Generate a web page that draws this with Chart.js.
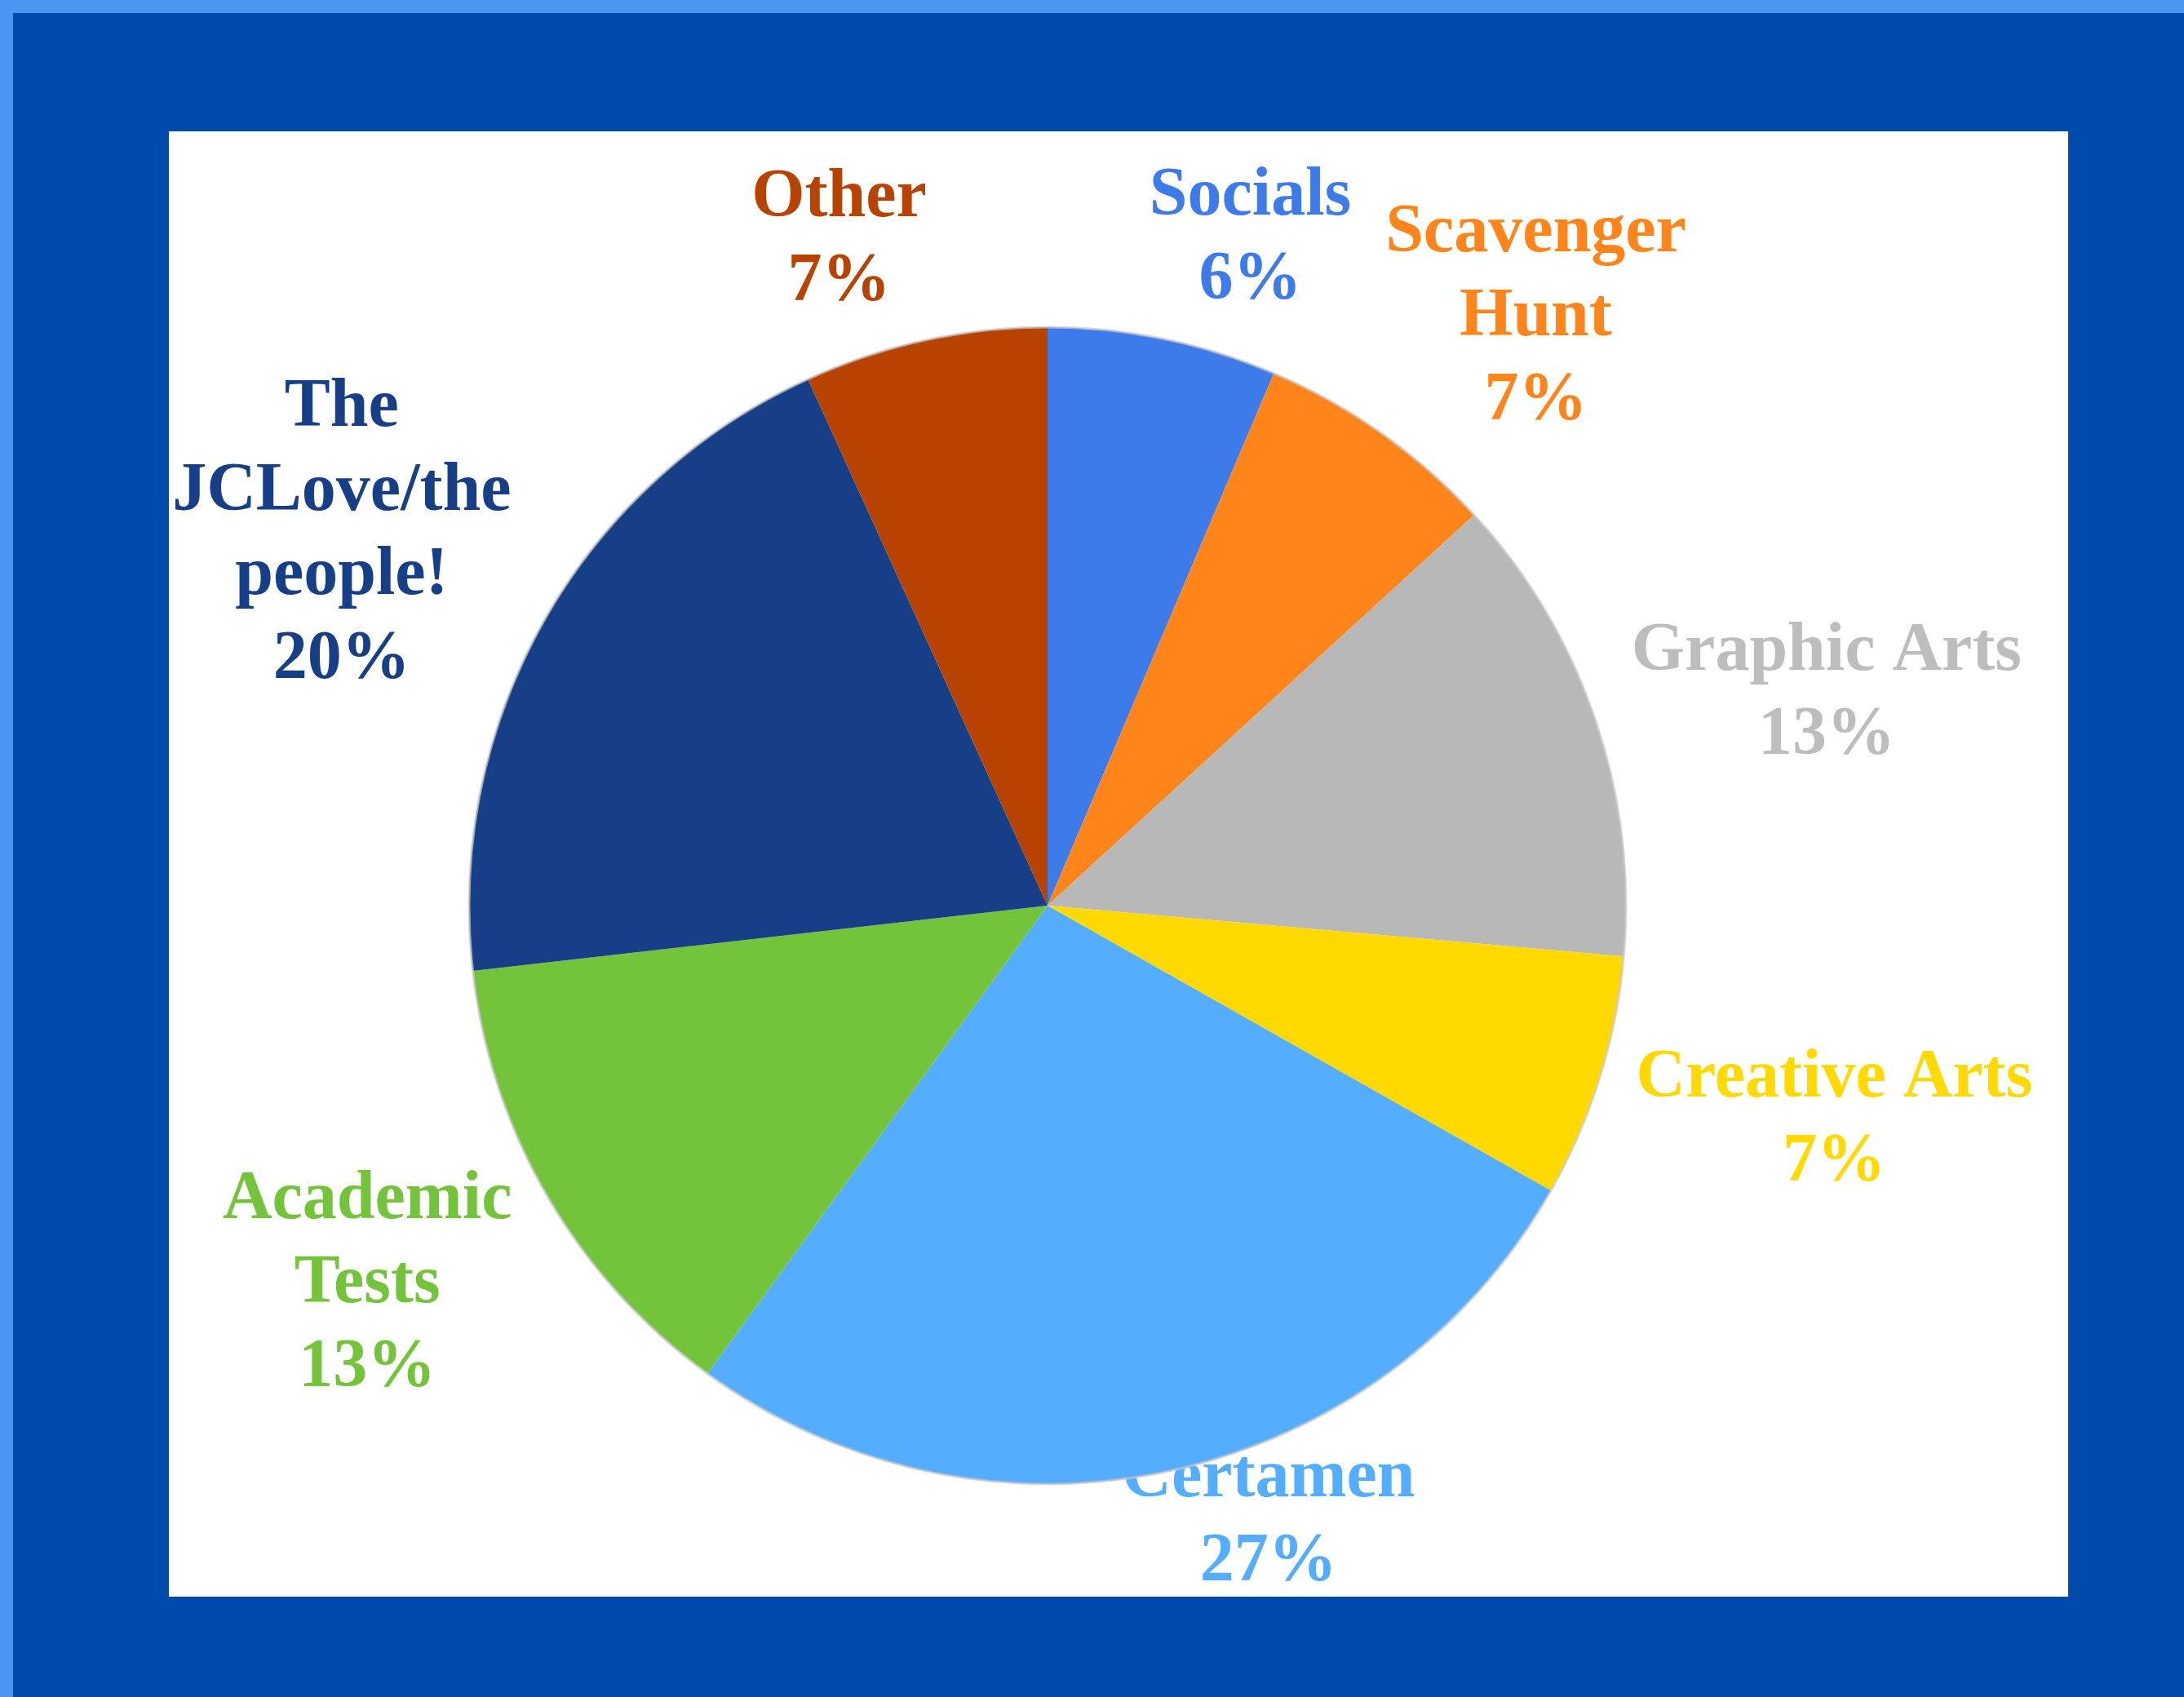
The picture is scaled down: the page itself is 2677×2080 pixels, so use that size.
<!DOCTYPE html>
<html>
<head>
<meta charset="utf-8">
<script src="https://cdn.jsdelivr.net/npm/chart.js@4/dist/chart.umd.min.js"></script>
<style>
  html, body { margin: 0; padding: 0; background: #4A97F2; overflow: hidden; }
  canvas { display: block; }
</style>
</head>
<body>
<canvas id="c" width="2677" height="2080"></canvas>
<script>
// ---- data ----
const categories = [
  ["Socials"],
  ["Scavenger", "Hunt"],
  ["Graphic Arts"],
  ["Creative Arts"],
  ["Certamen"],
  ["Academic", "Tests"],
  ["The", "JCLove/the", "people!"],
  ["Other"]
];
const shares = [6.4, 6.8, 13.2, 6.8, 26.8, 13.2, 20.0, 6.8];
const sliceColors = ["#3D7BEA", "#FF851B", "#B8B8B8", "#FFD900", "#55ADFF", "#73C43A", "#173F87", "#B84300"];
const labelColors = ["#3D7BEA", "#FF851B", "#BDBDBD", "#FFD900", "#55ADFF", "#73C43A", "#173F87", "#B84300"];

// ---- frame ----
const W = 2677, H = 2080;
const frame = { edge: 16, white: { x0: 207, y0: 161, x1: 2535, y1: 1957 } };
const FONT_SIZE = 84;
const LINE_H = 103;
const FONT = "bold " + FONT_SIZE + "px 'Liberation Serif', 'DejaVu Serif', serif";

const backgroundPlugin = {
  id: 'bg',
  beforeDraw(chart) {
    const ctx = chart.ctx;
    ctx.save();
    ctx.fillStyle = '#4A97F2';
    ctx.fillRect(0, 0, W, H);
    ctx.fillStyle = '#004AAD';
    ctx.fillRect(frame.edge, frame.edge, W - frame.edge, H - frame.edge);
    ctx.fillStyle = '#FFFFFF';
    const w = frame.white;
    ctx.fillRect(w.x0, w.y0, w.x1 - w.x0, w.y1 - w.y0);
    ctx.restore();
  }
};

const labelPlugin = {
  id: 'outsideLabels',
  beforeDatasetsDraw(chart) {
    const ctx = chart.ctx;
    const meta = chart.getDatasetMeta(0);
    const data = chart.data.datasets[0].data;
    const total = data.reduce((a, b) => a + b, 0);
    const gap = 34, push = 77, margin = 2, textShift = 12;
    const wb = frame.white;
    ctx.save();
    ctx.font = FONT;
    ctx.textAlign = 'center';
    ctx.textBaseline = 'middle';
    meta.data.forEach((arc, i) => {
      const p = arc.getProps(['x', 'y', 'startAngle', 'endAngle', 'outerRadius'], true);
      const mid = (p.startAngle + p.endAngle) / 2;
      const ux = Math.cos(mid), uy = Math.sin(mid);
      const lines = categories[i].concat([Math.round(data[i] / total * 100) + '%']);
      let bw = 0;
      lines.forEach(l => { bw = Math.max(bw, ctx.measureText(l).width); });
      const bh = lines.length * LINE_H;
      const ax = p.x + ux * (p.outerRadius + gap);
      const ay = p.y + uy * (p.outerRadius + gap);
      let cx = ax + ux * bw / 2 + Math.sign(ux) * push * Math.abs(uy);
      let cy = ay + uy * bh / 2;
      cx = Math.min(Math.max(cx, wb.x0 + margin + bw / 2), wb.x1 - margin - bw / 2);
      cy = Math.min(Math.max(cy, wb.y0 + margin + bh / 2), wb.y1 - margin - bh / 2);
      cy += textShift;
      ctx.fillStyle = labelColors[i];
      lines.forEach((l, k) => {
        ctx.fillText(l, cx, cy - bh / 2 + LINE_H * (k + 0.5));
      });
    });
    ctx.restore();
  },
  afterDatasetsDraw(chart) {
    const meta = chart.getDatasetMeta(0);
    const a = meta.data[0];
    if (!a) return;
    const p = a.getProps(['x', 'y', 'outerRadius'], true);
    const ctx = chart.ctx;
    ctx.save();
    ctx.strokeStyle = 'rgba(200,200,200,0.7)';
    ctx.lineWidth = 3;
    ctx.beginPath();
    ctx.arc(p.x, p.y, p.outerRadius, 0, Math.PI * 2);
    ctx.stroke();
    ctx.restore();
  }
};

new Chart(document.getElementById('c'), {
  type: 'pie',
  data: {
    labels: categories,
    datasets: [{
      data: shares,
      backgroundColor: sliceColors,
      borderWidth: 0
    }]
  },
  options: {
    responsive: false,
    devicePixelRatio: 1,
    animation: false,
    rotation: 0,
    layout: { padding: { left: 575, right: 684, top: 401, bottom: 261 } },
    plugins: {
      legend: { display: false },
      tooltip: { enabled: false }
    }
  },
  plugins: [backgroundPlugin, labelPlugin]
});
</script>
</body>
</html>
